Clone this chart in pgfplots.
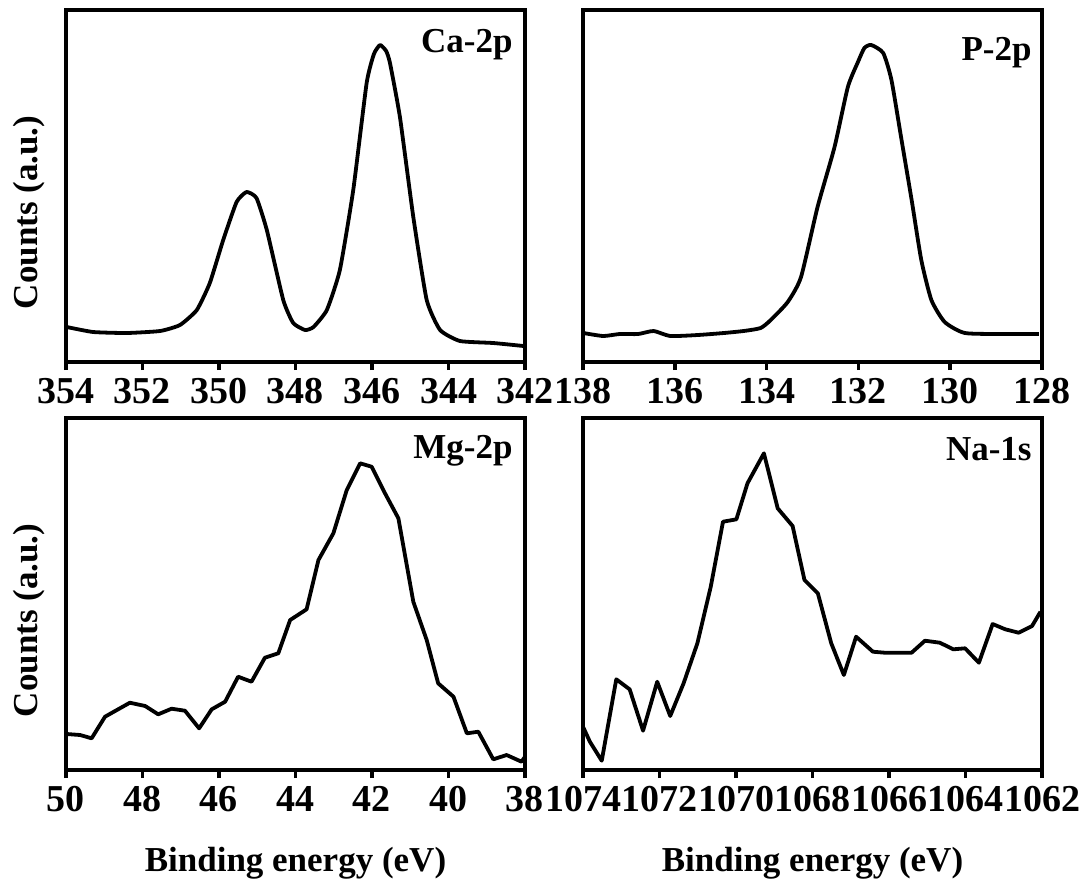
\documentclass[border=0pt]{standalone}
\usepackage{fontspec}
\setmainfont{Liberation Serif}
\newfontfamily\timesf{Liberation Serif}
\usepackage{pgfplots}
\pgfplotsset{compat=1.18}
\pgfplotsset{
  panel/.style={
    scale only axis, width=229.5pt, height=176pt,
    x dir=reverse, ymin=0, ymax=352,
    ytick=\empty,
    axis line style={line width=1.8pt, line cap=rect},
    every tick/.style={line width=1.8pt, black},
    major tick length=4pt, tick align=outside,
    xtick pos=left,
    /pgf/number format/assume math mode=true,
    /pgf/number format/1000 sep={},
    xticklabel style={inner sep=0pt, yshift=-4pt, font=\timesf\bfseries\fontsize{19}{22}\selectfont},
    ylabel={Counts (a.u.)},
    ylabel style={at={(axis description cs:-0.0458,0.425)}, anchor=south, inner sep=0pt},
  },
  blabel/.style={
    xlabel={Binding energy (eV)},
    xlabel style={at={(axis description cs:0.5,-0.289)}, anchor=base, inner sep=0pt},
  },
  curve/.style={black, line width=1.9pt, line join=round, no markers},
}
\begin{document}
\timesf\fontsize{17.5}{21}\selectfont\bfseries
\begin{tikzpicture}[x=1pt,y=1pt, font=\timesf\bfseries]
\path[use as bounding box] (0,0) rectangle (543,-442.5);

% Ca-2p
\begin{axis}[panel, at={(33pt,-181pt)}, anchor=south west,
  xmin=342, xmax=354, xtick={342,344,...,354}]
\addplot[curve, smooth, tension=0.3] coordinates {
(353.98,35) (353.29,30) (352.41,29) (351.54,31) (351.02,37) (350.58,52)
(350.24,79) (349.89,122) (349.54,160) (349.28,170) (349.02,164) (348.75,132)
(348.32,62) (348.06,39) (347.75,32) (347.53,35) (347.18,52) (346.84,92)
(346.49,172) (346.14,279) (345.95,308) (345.79,317) (345.63,311) (345.53,299) (345.27,245) (344.92,145)
(344.57,62) (344.22,32) (343.70,21) (342.83,19) (342.04,16)};
\node[anchor=base east, inner sep=0pt] at ([xshift=-6pt,yshift=-21pt]rel axis cs:1,1) {Ca-2p};
\end{axis}

% P-2p
\begin{axis}[panel, at={(291.5pt,-181pt)}, anchor=south west, ylabel={},
  xmin=128, xmax=138, xtick={128,130,...,138}]
\addplot[curve, smooth, tension=0.35] coordinates {
(137.99,29) (137.56,26) (137.2,28) (136.8,28) (136.46,31) (136.10,26) (135.5,27)
(134.93,29) (134.5,31) (134.13,34) (133.91,42) (133.54,60) (133.25,85) (132.89,155)
(132.52,215) (132.23,275) (132.01,300) (131.87,314) (131.72,317) (131.46,309)
(131.28,282) (131.06,222) (130.84,162) (130.63,102) (130.41,62) (130.12,40)
(129.68,29) (128.80,28) (128.07,28)};
\node[anchor=base east, inner sep=0pt] at ([xshift=-5pt,yshift=-25pt]rel axis cs:1,1) {P-2p};
\end{axis}

% Mg-2p
\begin{axis}[panel, blabel, at={(33pt,-385pt)}, anchor=south west,
  xmin=38, xmax=50, xtick={38,40,...,50}]
\addplot[curve] coordinates {
(49.98,36) (49.63,35) (49.33,31.7) (48.98,53.3) (48.67,60) (48.33,67.3)
(47.93,64) (47.59,55.7) (47.24,61.3) (46.89,59.3) (46.52,41.7) (46.19,60.7)
(45.84,68.3) (45.50,93.3) (45.15,88.3) (44.80,112.3) (44.45,116.7) (44.14,150)
(43.71,160.7) (43.40,210) (43.01,236.7) (42.66,280) (42.31,306.7) (42.01,303.3)
(41.66,276.7) (41.31,251.7) (40.92,168.3) (40.57,130) (40.27,86.7) (39.87,73.3)
(39.52,36.7) (39.22,38.3) (38.83,10.7) (38.48,15) (38.09,8.3) (38.00,13.3)};
\node[anchor=base east, inner sep=0pt] at ([xshift=-6pt,yshift=-20pt]rel axis cs:1,1) {Mg-2p};
\end{axis}

% Na-1s
\begin{axis}[panel, blabel, ylabel={}, at={(291.5pt,-385pt)}, anchor=south west,
  xmin=1062, xmax=1074, xtick={1062,1064,...,1074}]
\addplot[curve] coordinates {
(1074.0,43.3) (1073.82,28.3) (1073.51,9.3) (1073.13,90.7) (1072.78,80.7)
(1072.43,39.3) (1072.06,88.3) (1071.72,54) (1071.37,86.7) (1071.01,126.7)
(1070.66,183.3) (1070.34,248.3) (1069.99,250.7) (1069.70,286.7) (1069.27,316.7)
(1068.91,261.7) (1068.52,244) (1068.21,190) (1067.86,176.7) (1067.51,126.7)
(1067.18,95) (1066.86,133.3) (1066.42,118.3) (1066.11,117.3) (1065.41,117.3)
(1065.06,129.3) (1064.67,127.3) (1064.32,120.7) (1064.01,121.7) (1063.65,107.3)
(1063.29,146) (1062.96,140.7) (1062.61,137.3) (1062.26,144) (1062.04,158.3)};
\node[anchor=base east, inner sep=0pt] at ([xshift=-5pt,yshift=-21pt]rel axis cs:1,1) {Na-1s};
\end{axis}
\end{tikzpicture}
\end{document}
